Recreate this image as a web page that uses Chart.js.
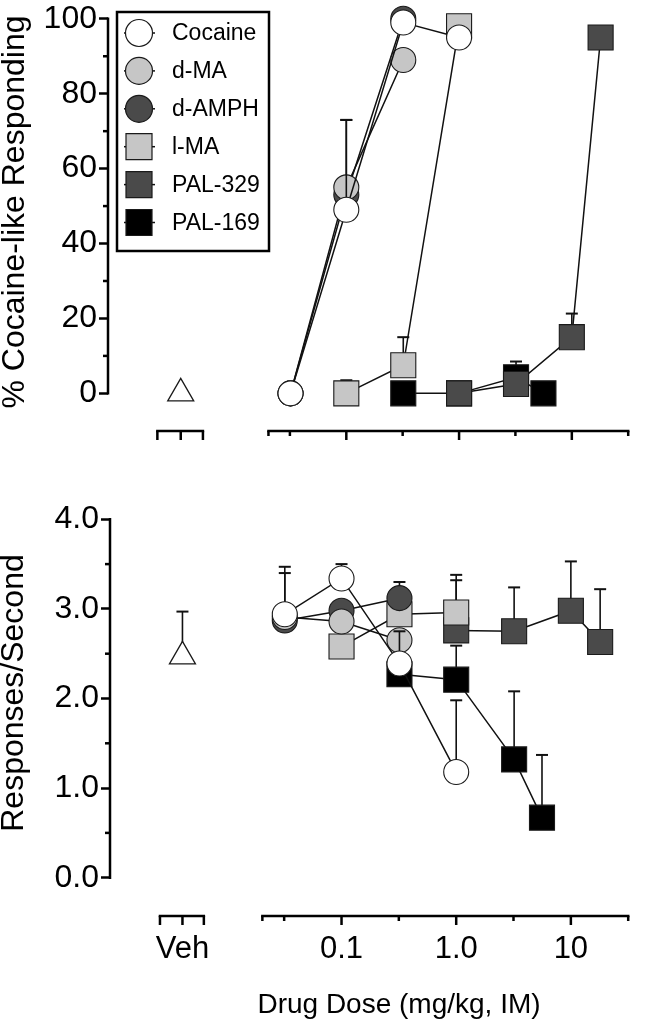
<!DOCTYPE html>
<html>
<head>
<meta charset="utf-8">
<script src="https://cdn.jsdelivr.net/npm/chart.js@4.4.1/dist/chart.umd.min.js"></script>
<style>
  html, body { margin: 0; padding: 0; background: #fff; }
  #wrap { position: relative; width: 647px; height: 1020px; }
  .panel { position: absolute; left: 0; width: 647px; }
  #top { top: 0; height: 470px; }
  #bottom { top: 470px; height: 550px; }
</style>
</head>
<body>
<div id="wrap">
  <div class="panel" id="top"><canvas id="discrim"></canvas></div>
  <div class="panel" id="bottom"><canvas id="rate"></canvas></div>
</div>
<script>
const FONT = "'Liberation Sans', Arial, Helvetica, sans-serif";

// doses, mg/kg IM
const cocaineDose = [0.032, 0.1, 0.32, 1.0];
const dMADose = [0.032, 0.1, 0.32];
const dAMPHDose = [0.032, 0.1, 0.32];
const lMADose = [0.1, 0.32, 1.0];
const pal329Dose = [1.0, 3.2, 10, 18];
const pal169Dose = [0.32, 1.0, 3.2, 5.6];

// % cocaine-like responding (mean) and SEM
const cocainePct = [0, 49, 99, 95];
const cocainePctSem = [0, 24, 0, 0];
const dMAPct = [0, 55, 89];
const dMAPctSem = [0, 0, 0];
const dAMPHPct = [0, 53, 100];
const dAMPHPctSem = [0, 20, 0];
const lMAPct = [0, 7.5, 98];
const lMAPctSem = [3.5, 7.5, 2];
const pal329Pct = [0, 2.5, 15, 95];
const pal329PctSem = [0, 0, 6.3, 0];
const pal169Pct = [0, 0, 4.3, 0];
const pal169PctSem = [0, 0, 4.2, 0];

// responses / second (mean) and SEM
const cocaineRate = [2.94, 3.34, 2.39, 1.18];
const cocaineRateSem = [0.53, 0.16, 0.36, 0.80];
const dMARate = [2.91, 2.86, 2.65];
const dMARateSem = [0, 0, 0];
const dAMPHRate = [2.87, 2.98, 3.12];
const dAMPHRateSem = [0.53, 0, 0.18];
const lMARate = [2.58, 2.94, 2.96];
const lMARateSem = [0, 0, 0.42];
const pal329Rate = [2.76, 2.75, 2.98, 2.63];
const pal329RateSem = [0.56, 0.49, 0.55, 0.59];
const pal169Rate = [2.27, 2.21, 1.32, 0.67];
const pal169RateSem = [0, 0.38, 0.76, 0.70];

// vehicle
const vehPct = 0;
const vehPctSem = 0;
const vehRate = 2.47;
const vehRateSem = 0.50;

// axis ticks
const xTickValues = [0.1, 1, 10];
const xTickLabels = ['0.1', '1.0', '10'];
const xMinorTicks = [0.0316, 0.316, 3.16, 31.62];
const pctTicks = [0, 20, 40, 60, 80, 100];
const pctMinor = [10, 30, 50, 70, 90];
const rateTicks = [0, 1, 2, 3, 4];
const rateMinor = [0.5, 1.5, 2.5, 3.5];

const series = [
  {name: 'Cocaine', dose: cocaineDose, pct: cocainePct, pctSem: cocainePctSem, rate: cocaineRate, rateSem: cocaineRateSem},
  {name: 'd-MA', dose: dMADose, pct: dMAPct, pctSem: dMAPctSem, rate: dMARate, rateSem: dMARateSem},
  {name: 'd-AMPH', dose: dAMPHDose, pct: dAMPHPct, pctSem: dAMPHPctSem, rate: dAMPHRate, rateSem: dAMPHRateSem},
  {name: 'l-MA', dose: lMADose, pct: lMAPct, pctSem: lMAPctSem, rate: lMARate, rateSem: lMARateSem},
  {name: 'PAL-329', dose: pal329Dose, pct: pal329Pct, pctSem: pal329PctSem, rate: pal329Rate, rateSem: pal329RateSem},
  {name: 'PAL-169', dose: pal169Dose, pct: pal169Pct, pctSem: pal169PctSem, rate: pal169Rate, rateSem: pal169RateSem}
];

const looks = {
  'Cocaine': {shape: 'circle', fill: '#ffffff'},
  'd-MA': {shape: 'circle', fill: '#c6c6c6'},
  'd-AMPH': {shape: 'circle', fill: '#4a4a4a'},
  'l-MA': {shape: 'rect', fill: '#c6c6c6'},
  'PAL-329': {shape: 'rect', fill: '#4a4a4a'},
  'PAL-169': {shape: 'rect', fill: '#000000'}
};

function buildDatasets(key, vehDose, vehValue, vehSem) {
  const sets = series.map(s => {
    const look = looks[s.name];
    return {
      label: s.name,
      data: s.dose.map((d, i) => ({x: d, y: s[key][i]})),
      sem: s[key + 'Sem'],
      showLine: true,
      borderColor: '#111',
      borderWidth: 1.5,
      pointStyle: look.shape,
      pointRadius: look.shape === 'rect' ? 17.7 : 12.5,
      pointBackgroundColor: look.fill,
      pointBorderColor: '#1a1a1a',
      pointBorderWidth: 1.1,
      clip: false
    };
  });
  sets.push({
    label: 'Veh',
    data: [{x: vehDose, y: vehValue}],
    sem: [vehSem],
    showLine: false,
    pointStyle: 'triangle',
    pointRadius: 15,
    pointBackgroundColor: '#ffffff',
    pointBorderColor: '#1a1a1a',
    pointBorderWidth: 1.3,
    clip: false
  });
  return sets;
}

function line(ctx, x1, y1, x2, y2) {
  ctx.beginPath();
  ctx.moveTo(x1, y1);
  ctx.lineTo(x2, y2);
  ctx.stroke();
}

// error bars go under each series' own markers
const errorBarPlugin = {
  id: 'errorBars',
  beforeDatasetDraw(chart, args) {
    const ds = chart.data.datasets[args.index];
    if (!ds.sem) return;
    const ctx = chart.ctx;
    const y = chart.scales.y;
    ctx.save();
    ctx.strokeStyle = '#111';
    args.meta.data.forEach((pt, i) => {
      const sem = ds.sem[i];
      if (!sem) return;
      const top = y.getPixelForValue(ds.data[i].y + sem);
      ctx.lineWidth = 1.6;
      line(ctx, pt.x, pt.y, pt.x, top);
      ctx.lineWidth = 2;
      line(ctx, pt.x - 6, top, pt.x + 6, top);
    });
    ctx.restore();
  }
};

// y axis line, minor ticks, broken x axis, axis titles
const axesPlugin = {
  id: 'brokenAxes',
  beforeDatasetsDraw(chart, args, o) {
    const {ctx, chartArea} = chart;
    const x = chart.scales.x, y = chart.scales.y;
    const base = chartArea.bottom;
    const yl = chartArea.left;
    const hw = 1.25;
    ctx.save();
    ctx.strokeStyle = '#000';
    ctx.lineWidth = 2.5;
    line(ctx, yl, y.getPixelForValue(o.yTicks[0]) + hw, yl, y.getPixelForValue(o.yTicks[o.yTicks.length - 1]) - hw);
    o.yMinor.forEach(v => {
      const p = y.getPixelForValue(v);
      line(ctx, yl - 5, p, yl, p);
    });

    const px = v => x.getPixelForValue(v);
    line(ctx, px(o.veh[0]) - hw, base, px(o.veh[2]) + hw, base);
    line(ctx, px(o.axisStart) - hw, base, px(o.axisEnd) + hw, base);
    o.veh.forEach(v => line(ctx, px(v), base, px(v), base + 9));
    xTickValues.forEach(v => line(ctx, px(v), base, px(v), base + 9));
    [o.axisStart].concat(xMinorTicks).forEach(v => line(ctx, px(v), base, px(v), base + 5));

    ctx.fillStyle = '#000';
    if (o.xLabels) {
      ctx.font = '31px ' + FONT;
      ctx.textAlign = 'center';
      ctx.textBaseline = 'middle';
      ctx.fillText('Veh', px(o.veh[1]), base + 33);
      xTickValues.forEach((v, i) => ctx.fillText(xTickLabels[i], px(v), base + 33));
    }
    if (o.xTitle) {
      ctx.font = '28px ' + FONT;
      ctx.textAlign = 'center';
      ctx.textBaseline = 'middle';
      ctx.fillText(o.xTitle, o.xTitleAt[0], o.xTitleAt[1]);
    }
    ctx.translate(o.yTitleAt[0], o.yTitleAt[1]);
    ctx.rotate(-Math.PI / 2);
    ctx.font = '32px ' + FONT;
    ctx.textAlign = 'center';
    ctx.textBaseline = 'middle';
    ctx.fillText(o.yTitle, 0, 0);
    ctx.restore();
  }
};

// boxed legend, Prism style
const legendPlugin = {
  id: 'boxLegend',
  afterDraw(chart, args, o) {
    if (!o.show) return;
    const ctx = chart.ctx;
    ctx.save();
    ctx.strokeStyle = '#000';
    ctx.lineWidth = 2.5;
    ctx.strokeRect(117, 12, 152, 239);
    ctx.font = '23px ' + FONT;
    ctx.textAlign = 'left';
    ctx.textBaseline = 'middle';
    series.forEach((s, i) => {
      const look = looks[s.name];
      const cy = 33 + i * 37.9;
      const cx = 139;
      ctx.strokeStyle = '#111';
      ctx.lineWidth = 1.5;
      line(ctx, cx - 15, cy, cx + 16, cy);
      ctx.beginPath();
      if (look.shape === 'circle') ctx.arc(cx, cy, 13.5, 0, Math.PI * 2);
      else ctx.rect(cx - 13, cy - 13, 26, 26);
      ctx.fillStyle = look.fill;
      ctx.fill();
      ctx.lineWidth = 1.2;
      ctx.strokeStyle = '#1a1a1a';
      ctx.stroke();
      ctx.fillStyle = '#000';
      ctx.fillText(s.name, 172, cy + 1);
    });
    ctx.restore();
  }
};

function panelOptions(cfg) {
  return {
    responsive: true,
    maintainAspectRatio: false,
    animation: false,
    events: [],
    layout: {padding: cfg.padding},
    plugins: {
      legend: {display: false},
      tooltip: {enabled: false},
      brokenAxes: cfg.axes,
      boxLegend: {show: cfg.legend}
    },
    scales: {
      x: {
        type: 'logarithmic',
        display: false,
        bounds: 'data',
        min: cfg.xMin,
        max: cfg.xMax,
        ticks: {display: false}
      },
      y: {
        type: 'linear',
        bounds: 'data',
        min: cfg.yMin,
        max: cfg.yMax,
        afterFit: s => { s.width = cfg.yWidth; },
        afterBuildTicks: s => { s.ticks = cfg.axes.yTicks.map(v => ({value: v})); },
        border: {display: false},
        grid: {drawOnChartArea: false, color: '#000', tickLength: 9, tickWidth: 2.5},
        ticks: {
          padding: 2,
          color: '#000',
          font: {family: FONT, size: 32, lineHeight: 0.95},
          callback: cfg.yLabel
        }
      }
    }
  };
}

new Chart(document.getElementById('discrim'), {
  type: 'scatter',
  data: {datasets: buildDatasets('pct', 0.0034, vehPct, vehPctSem)},
  options: panelOptions({
    padding: {top: 15, right: 2, bottom: 39, left: 0},
    xMin: 7.70e-4, xMax: 31.62,
    yMin: -10.05, yMax: 100,
    yWidth: 108,
    yLabel: v => String(v),
    legend: true,
    axes: {
      yTicks: pctTicks, yMinor: pctMinor,
      veh: [0.00211, 0.0034, 0.00535],
      axisStart: 0.0204, axisEnd: 31.62,
      xLabels: false,
      yTitle: '% Cocaine-like Responding', yTitleAt: [15, 212]
    }
  }),
  plugins: [axesPlugin, errorBarPlugin, legendPlugin]
});

new Chart(document.getElementById('rate'), {
  type: 'scatter',
  data: {datasets: buildDatasets('rate', 0.0041, vehRate, vehRateSem)},
  options: panelOptions({
    padding: {top: 49.3, right: 6, bottom: 104, left: 0},
    xMin: 9.57e-4, xMax: 31.62,
    yMin: -0.4275, yMax: 4,
    yWidth: 110,
    yLabel: v => v.toFixed(1),
    legend: false,
    axes: {
      yTicks: rateTicks, yMinor: rateMinor,
      veh: [0.00261, 0.0041, 0.0063],
      axisStart: 0.0204, axisEnd: 31.62,
      xLabels: true,
      xTitle: 'Drug Dose (mg/kg, IM)', xTitleAt: [399, 535],
      yTitle: 'Responses/Second', yTitleAt: [14, 223]
    }
  }),
  plugins: [axesPlugin, errorBarPlugin, legendPlugin]
});
</script>
</body>
</html>
